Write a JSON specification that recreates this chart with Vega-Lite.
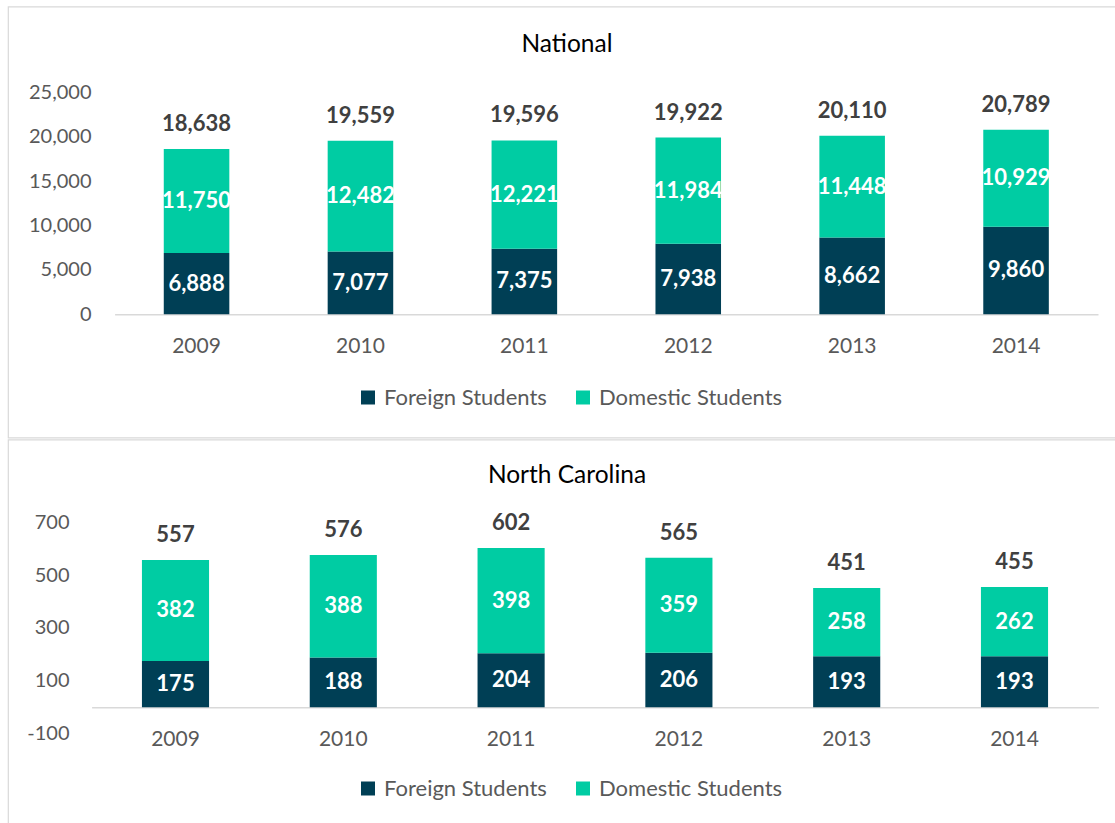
{
  "$schema": "https://vega.github.io/schema/vega-lite/v6.json",
  "padding": {"left": 7, "top": 5.5, "right": 0, "bottom": 0},
  "background": "white",
  "spacing": 0,
  "config": {
    "font": "Lato",
    "view": {"stroke": "#D9D9D9", "strokeWidth": 1.2},
    "axis": {"grid": false}
  },
  "resolve": {"legend": {"color": "independent"}},
  "datasets": {
    "d": [
      {"region": "National", "year": "2009", "type": "Foreign Students", "value": 6888},
      {"region": "National", "year": "2009", "type": "Domestic Students", "value": 11750},
      {"region": "National", "year": "2010", "type": "Foreign Students", "value": 7077},
      {"region": "National", "year": "2010", "type": "Domestic Students", "value": 12482},
      {"region": "National", "year": "2011", "type": "Foreign Students", "value": 7375},
      {"region": "National", "year": "2011", "type": "Domestic Students", "value": 12221},
      {"region": "National", "year": "2012", "type": "Foreign Students", "value": 7938},
      {"region": "National", "year": "2012", "type": "Domestic Students", "value": 11984},
      {"region": "National", "year": "2013", "type": "Foreign Students", "value": 8662},
      {"region": "National", "year": "2013", "type": "Domestic Students", "value": 11448},
      {"region": "National", "year": "2014", "type": "Foreign Students", "value": 9860},
      {"region": "National", "year": "2014", "type": "Domestic Students", "value": 10929},
      {"region": "North Carolina", "year": "2009", "type": "Foreign Students", "value": 175},
      {"region": "North Carolina", "year": "2009", "type": "Domestic Students", "value": 382},
      {"region": "North Carolina", "year": "2010", "type": "Foreign Students", "value": 188},
      {"region": "North Carolina", "year": "2010", "type": "Domestic Students", "value": 388},
      {"region": "North Carolina", "year": "2011", "type": "Foreign Students", "value": 204},
      {"region": "North Carolina", "year": "2011", "type": "Domestic Students", "value": 398},
      {"region": "North Carolina", "year": "2012", "type": "Foreign Students", "value": 206},
      {"region": "North Carolina", "year": "2012", "type": "Domestic Students", "value": 359},
      {"region": "North Carolina", "year": "2013", "type": "Foreign Students", "value": 193},
      {"region": "North Carolina", "year": "2013", "type": "Domestic Students", "value": 258},
      {"region": "North Carolina", "year": "2014", "type": "Foreign Students", "value": 193},
      {"region": "North Carolina", "year": "2014", "type": "Domestic Students", "value": 262}
    ]
  },
  "vconcat": [
    {
      "width": 1118,
      "height": 431,
      "data": {"name": "d"},
      "transform": [{"filter": "datum.region === 'National'"}],
      "title": {"text": "National", "offset": -63, "baseline": "middle", "fontSize": 24.5, "font": "Lato", "fontWeight": "normal", "color": "#000000", "anchor": "middle"},
      "encoding": {
        "x": {
          "field": "year", "type": "ordinal", "title": null,
          "scale": {"range": [106.6, 1090], "paddingInner": 0.6, "paddingOuter": 0.3},
          "axis": {"offset": -123.3, "ticks": false, "tickSize": 0, "labelPadding": 21, "domainColor": "#D9D9D9", "domainWidth": 1.5, "labelFontSize": 21, "labelColor": "#595959", "labelAngle": 0, "labelFont": "Lato"}
        }
      },
      "layer": [
        {
          "mark": {"type": "bar"},
          "encoding": {
            "y": {
              "field": "value", "type": "quantitative", "stack": "zero", "title": null,
              "scale": {"domain": [-13904, 34698], "nice": false, "zero": false},
              "axis": {"values": [0, 5000, 10000, 15000, 20000, 25000], "labelExpr": "format(datum.value, ',')", "domain": false, "ticks": false, "tickSize": 0, "labelPadding": 0, "offset": -83, "labelFontSize": 20, "labelColor": "#595959", "labelFont": "Lato"}
            },
            "color": {
              "field": "type", "type": "nominal",
              "scale": {"domain": ["Foreign Students", "Domestic Students"], "range": ["#003F55", "#00CCA3"]},
              "legend": {"title": null, "orient": "none", "legendX": 349, "legendY": 380, "direction": "horizontal", "symbolType": "square", "symbolSize": 196, "symbolStrokeWidth": 0, "labelFontSize": 22, "labelColor": "#595959", "labelFont": "Lato", "labelOffset": 5, "labelLimit": 400, "columnPadding": 25, "padding": 0}
            },
            "order": {"field": "type", "sort": "descending"}
          }
        },
        {
          "mark": {"type": "text", "color": "white", "fontWeight": "bold", "fontSize": 22, "baseline": "middle", "font": "Lato"},
          "encoding": {
            "y": {"field": "value", "type": "quantitative", "stack": "zero", "bandPosition": 0.5, "title": null},
            "detail": {"field": "type"},
            "order": {"field": "type", "sort": "descending"},
            "text": {"field": "value", "type": "quantitative", "format": ","}
          }
        },
        {
          "mark": {"type": "text", "color": "#404040", "fontWeight": "bold", "fontSize": 22, "baseline": "middle", "dy": -25, "font": "Lato"},
          "encoding": {
            "y": {"aggregate": "sum", "field": "value", "type": "quantitative", "title": null},
            "text": {"aggregate": "sum", "field": "value", "type": "quantitative", "format": ","}
          }
        }
      ]
    },
    {
      "width": 1118,
      "height": 389,
      "data": {"name": "d"},
      "transform": [{"filter": "datum.region === 'North Carolina'"}],
      "title": {"text": "North Carolina", "offset": -61, "baseline": "middle", "fontSize": 24.5, "font": "Lato", "fontWeight": "normal", "color": "#000000", "anchor": "middle"},
      "encoding": {
        "x": {
          "field": "year", "type": "ordinal", "title": null,
          "scale": {"range": [83.6, 1090.4], "paddingInner": 0.6, "paddingOuter": 0.3},
          "axis": {"offset": -121.3, "ticks": false, "tickSize": 0, "labelPadding": 21, "domainColor": "#D9D9D9", "domainWidth": 1.5, "labelFontSize": 21, "labelColor": "#595959", "labelAngle": 0, "labelFont": "Lato"}
        }
      },
      "layer": [
        {
          "mark": {"type": "bar"},
          "encoding": {
            "y": {
              "field": "value", "type": "quantitative", "stack": "zero", "title": null,
              "scale": {"domain": [-458.9, 1012.7], "nice": false, "zero": false},
              "axis": {"values": [-100, 100, 300, 500, 700], "labelExpr": "toString(datum.value)", "domain": false, "ticks": false, "tickSize": 0, "labelPadding": 0, "offset": -61, "labelFontSize": 20, "labelColor": "#595959", "labelFont": "Lato"}
            },
            "color": {
              "field": "type", "type": "nominal",
              "scale": {"domain": ["Foreign Students", "Domestic Students"], "range": ["#003F55", "#00CCA3"]},
              "legend": {"title": null, "orient": "none", "legendX": 349, "legendY": 338, "direction": "horizontal", "symbolType": "square", "symbolSize": 196, "symbolStrokeWidth": 0, "labelFontSize": 22, "labelColor": "#595959", "labelFont": "Lato", "labelOffset": 5, "labelLimit": 400, "columnPadding": 25, "padding": 0}
            },
            "order": {"field": "type", "sort": "descending"}
          }
        },
        {
          "mark": {"type": "text", "color": "white", "fontWeight": "bold", "fontSize": 22, "baseline": "middle", "font": "Lato"},
          "encoding": {
            "y": {"field": "value", "type": "quantitative", "stack": "zero", "bandPosition": 0.5, "title": null},
            "detail": {"field": "type"},
            "order": {"field": "type", "sort": "descending"},
            "text": {"field": "value", "type": "quantitative", "format": ","}
          }
        },
        {
          "mark": {"type": "text", "color": "#404040", "fontWeight": "bold", "fontSize": 22, "baseline": "middle", "dy": -25, "font": "Lato"},
          "encoding": {
            "y": {"aggregate": "sum", "field": "value", "type": "quantitative", "title": null},
            "text": {"aggregate": "sum", "field": "value", "type": "quantitative", "format": ","}
          }
        }
      ]
    }
  ]
}
